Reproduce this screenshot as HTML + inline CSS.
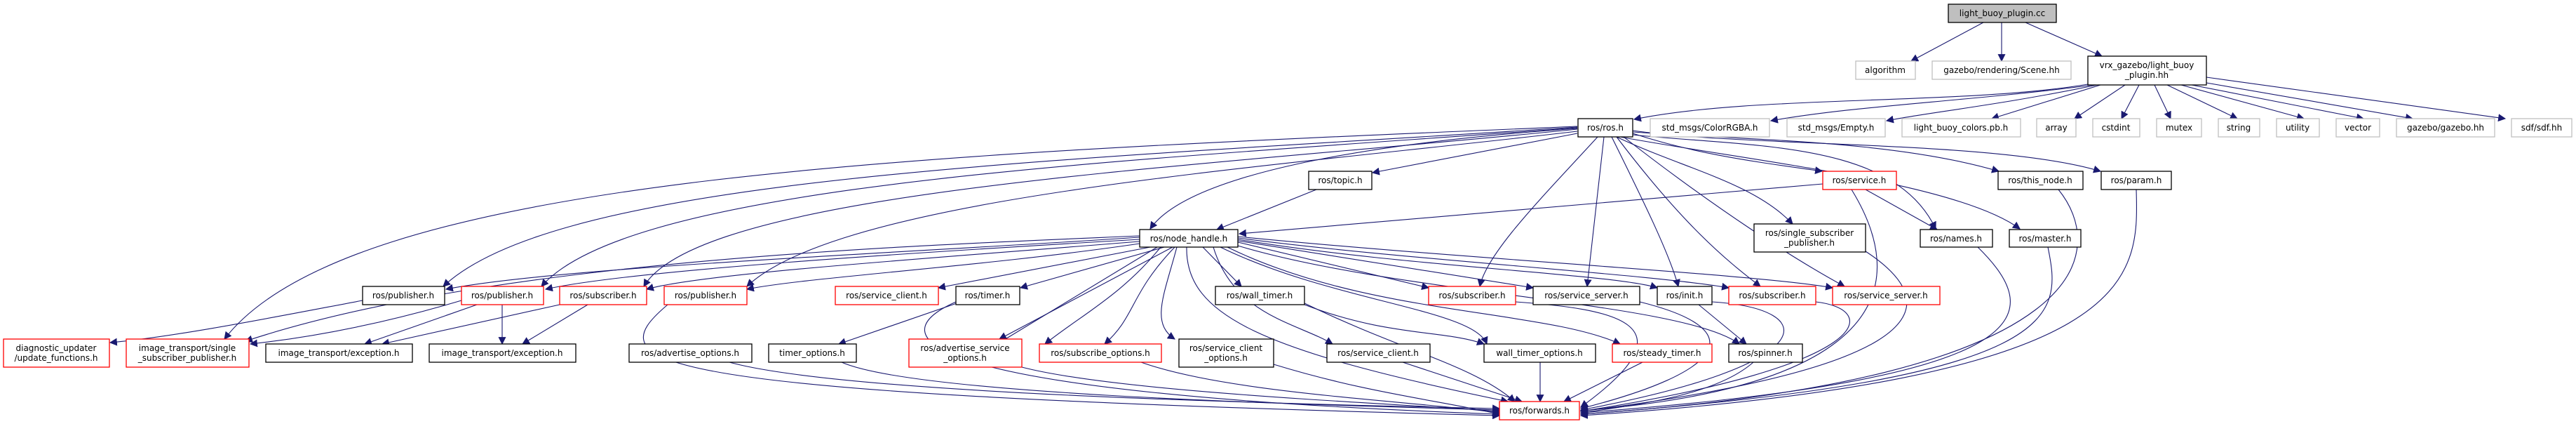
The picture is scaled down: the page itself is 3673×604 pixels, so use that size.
<!DOCTYPE html>
<html><head><meta charset="utf-8"><style>
html,body{margin:0;padding:0;background:#fff;width:3673px;height:604px;overflow:hidden}
svg{display:block}
text{font-family:"DejaVu Sans","Liberation Sans",sans-serif;font-size:12px;fill:#000;text-anchor:middle}
.b{fill:#fff;stroke:#000;stroke-width:1.3}
.g{fill:#fff;stroke:#bfbfbf;stroke-width:1.3}
.r{fill:#fff;stroke:#ff0000;stroke-width:1.3}
.e{fill:none;stroke:#191970;stroke-width:1.1}
</style></head><body>
<svg width="3673" height="604" viewBox="0 0 3673 604" xmlns="http://www.w3.org/2000/svg">
<defs><marker id="a" viewBox="0 0 10 10" refX="9" refY="5" markerWidth="11" markerHeight="11" markerUnits="userSpaceOnUse" orient="auto"><path d="M0,0 L10,5 L0,10 z" fill="#191970"/></marker></defs>
<g marker-end="url(#a)">
<!-- cc -->
<path class="e" d="M2828,32 L2725,87"/>
<path class="e" d="M2854,32 L2854,87"/>
<path class="e" d="M2888,32 L2997,80"/>
<!-- vrx -->
<path class="e" d="M2977,120 C2800,150 2500,135 2330,170"/>
<path class="e" d="M2985,121 C2800,145 2650,150 2525,172"/>
<path class="e" d="M2990,121 C2850,150 2750,160 2690,172"/>
<path class="e" d="M2995,121 L2840,169"/>
<path class="e" d="M3030,121 L2958,169"/>
<path class="e" d="M3050,121 L3025,169"/>
<path class="e" d="M3072,121 L3095,169"/>
<path class="e" d="M3090,121 L3190,169"/>
<path class="e" d="M3110,121 L3285,169"/>
<path class="e" d="M3125,121 L3370,169"/>
<path class="e" d="M3146,118 L3440,169"/>
<path class="e" d="M3146,110 L3572,169"/>
<!-- ros.h -->
<path class="e" d="M2249,183 C2000,200 1700,240 1640,326"/>
<path class="e" d="M2249,190 L1957,246"/>
<path class="e" d="M2328,190 C2420,220 2500,230 2598,244"/>
<path class="e" d="M2328,188 C2500,200 2700,200 2850,244"/>
<path class="e" d="M2328,186 C2500,210 2850,200 2995,244"/>
<path class="e" d="M2328,192 C2500,210 2700,200 2760,326"/>
<path class="e" d="M2310,195 C2500,230 2790,260 2880,326"/>
<path class="e" d="M2305,195 C2400,240 2500,260 2556,319"/>
<path class="e" d="M2249,181 C1500,230 800,250 632,408"/>
<path class="e" d="M2249,182 C1600,230 900,260 772,408"/>
<path class="e" d="M2249,184 C1700,240 1000,270 918,408"/>
<path class="e" d="M2249,187 C1800,240 1200,280 1065,408"/>
<path class="e" d="M2278,195 C2200,280 2120,360 2110,408"/>
<path class="e" d="M2287,195 L2263,408"/>
<path class="e" d="M2298,195 C2340,280 2380,360 2393,408"/>
<path class="e" d="M2305,195 C2400,320 2460,370 2510,408"/>
<path class="e" d="M2315,195 C2450,300 2560,370 2630,408"/>
<path class="e" d="M2249,180 C1300,220 500,250 320,483"/>
<!-- topic -->
<path class="e" d="M1877,270 L1735,327"/>
<!-- service.h -->
<path class="e" d="M2599,262 L1767,333"/>
<path class="e" d="M2660,270 L2762,327"/>
<path class="e" d="M2640,270 C2720,400 2700,550 2254,585"/>
<!-- right side to forwards -->
<path class="e" d="M2935,270 C3000,350 3010,540 2254,590"/>
<path class="e" d="M3046,270 C3050,400 3050,540 2254,592"/>
<path class="e" d="M2820,352 C2920,450 2910,540 2254,588"/>
<path class="e" d="M2920,352 C2940,450 2950,540 2254,590"/>
<path class="e" d="M2660,358 C2800,450 2700,530 2254,586"/>
<!-- node_handle -->
<path class="e" d="M1625,338 C1300,360 800,380 636,412"/>
<path class="e" d="M1625,341 C1300,360 900,385 778,412"/>
<path class="e" d="M1625,344 C1300,370 1000,390 922,412"/>
<path class="e" d="M1625,347 C1400,380 1150,395 1065,412"/>
<path class="e" d="M1640,352 L1338,410"/>
<path class="e" d="M1660,352 L1455,410"/>
<path class="e" d="M1715,352 L1770,408"/>
<path class="e" d="M1765,345 L2037,410"/>
<path class="e" d="M1765,343 L2186,410"/>
<path class="e" d="M1765,341 C2000,380 2300,390 2363,410"/>
<path class="e" d="M1765,339 C2000,370 2350,390 2465,410"/>
<path class="e" d="M1765,337 C2100,370 2500,390 2613,410"/>
<path class="e" d="M1650,352 L1422,490"/>
<path class="e" d="M1655,352 C1600,420 1540,450 1490,490"/>
<path class="e" d="M1672,352 L1425,483"/>
<path class="e" d="M1675,352 C1610,420 1620,450 1575,490"/>
<path class="e" d="M1678,352 C1660,420 1640,460 1675,483"/>
<path class="e" d="M1730,352 C1760,450 1850,460 1900,490"/>
<path class="e" d="M1740,352 C1900,430 2100,440 2120,490"/>
<path class="e" d="M1750,352 C1950,450 2200,440 2310,490"/>
<path class="e" d="M1765,350 C2000,420 2400,430 2480,490"/>
<path class="e" d="M1692,352 C1690,450 1800,500 2150,572"/>
<path class="e" d="M1625,336 C1300,350 700,370 350,486"/>
<!-- level 5 -->
<path class="e" d="M517,428 C400,450 250,480 157,488"/>
<path class="e" d="M658,428 C550,460 450,480 357,490"/>
<path class="e" d="M680,434 L520,490"/>
<path class="e" d="M716,434 L716,490"/>
<path class="e" d="M798,434 L545,490"/>
<path class="e" d="M838,434 L745,490"/>
<path class="e" d="M952,434 C850,520 900,560 2138,592"/>
<path class="e" d="M1370,430 L1196,490"/>
<path class="e" d="M1363,430 C1250,480 1300,560 2138,590"/>
<path class="e" d="M1860,434 C1980,480 2060,470 2116,490"/>
<path class="e" d="M1860,432 C2000,500 2100,520 2160,572"/>
<path class="e" d="M2422,434 L2490,490"/>
<path class="e" d="M2161,430 C2300,440 2420,460 2254,580"/>
<path class="e" d="M2338,430 C2500,470 2460,530 2254,582"/>
<path class="e" d="M2441,430 C2600,440 2600,520 2254,584"/>
<path class="e" d="M2589,430 C2680,440 2680,520 2254,586"/>
<!-- level 6 to forwards -->
<path class="e" d="M1040,516 C1200,560 1800,575 2138,582"/>
<path class="e" d="M1200,516 C1300,560 1800,575 2138,584"/>
<path class="e" d="M1457,523 C1600,560 2000,575 2138,586"/>
<path class="e" d="M1627,516 C1750,560 2000,570 2138,588"/>
<path class="e" d="M1816,519 C1950,560 2050,570 2138,590"/>
<path class="e" d="M2000,516 L2170,572"/>
<path class="e" d="M2196,516 L2196,572"/>
<path class="e" d="M2342,516 L2230,572"/>
<path class="e" d="M2500,516 C2450,560 2350,575 2254,588"/>
</g>
<!-- nodes -->
<rect x="2778" y="6" width="154" height="26" fill="#bfbfbf" stroke="#000" stroke-width="1.3"/><text x="2855" y="23">light_buoy_plugin.cc</text>
<rect class="g" x="2646" y="87" width="85" height="26"/><text x="2688" y="104">algorithm</text>
<rect class="g" x="2755" y="87" width="198" height="26"/><text x="2854" y="104">gazebo/rendering/Scene.hh</text>
<rect class="b" x="2977" y="80" width="169" height="41"/><text x="3061" y="97">vrx_gazebo/light_buoy</text><text x="3061" y="111">_plugin.hh</text>
<rect class="b" x="2250" y="169" width="78" height="26"/><text x="2289" y="186">ros/ros.h</text>
<rect class="g" x="2353" y="169" width="170" height="26"/><text x="2438" y="186">std_msgs/ColorRGBA.h</text>
<rect class="g" x="2548" y="169" width="140" height="26"/><text x="2618" y="186">std_msgs/Empty.h</text>
<rect class="g" x="2712" y="169" width="169" height="26"/><text x="2796" y="186">light_buoy_colors.pb.h</text>
<rect class="g" x="2904" y="169" width="56" height="26"/><text x="2932" y="186">array</text>
<rect class="g" x="2984" y="169" width="67" height="26"/><text x="3017" y="186">cstdint</text>
<rect class="g" x="3075" y="169" width="64" height="26"/><text x="3107" y="186">mutex</text>
<rect class="g" x="3163" y="169" width="59" height="26"/><text x="3192" y="186">string</text>
<rect class="g" x="3246" y="169" width="61" height="26"/><text x="3276" y="186">utility</text>
<rect class="g" x="3331" y="169" width="62" height="26"/><text x="3362" y="186">vector</text>
<rect class="g" x="3417" y="169" width="140" height="26"/><text x="3487" y="186">gazebo/gazebo.hh</text>
<rect class="g" x="3581" y="169" width="86" height="26"/><text x="3624" y="186">sdf/sdf.hh</text>
<rect class="b" x="1866" y="244" width="90" height="26"/><text x="1911" y="261">ros/topic.h</text>
<rect class="r" x="2599" y="244" width="105" height="26"/><text x="2651" y="261">ros/service.h</text>
<rect class="b" x="2849" y="244" width="121" height="26"/><text x="2909" y="261">ros/this_node.h</text>
<rect class="b" x="2996" y="244" width="100" height="26"/><text x="3046" y="261">ros/param.h</text>
<rect class="b" x="1625" y="327" width="140" height="25"/><text x="1695" y="344">ros/node_handle.h</text>
<rect class="b" x="2501" y="319" width="159" height="40"/><text x="2580" y="336">ros/single_subscriber</text><text x="2580" y="350">_publisher.h</text>
<rect class="b" x="2738" y="327" width="103" height="25"/><text x="2789" y="344">ros/names.h</text>
<rect class="b" x="2865" y="327" width="102" height="25"/><text x="2916" y="344">ros/master.h</text>
<rect class="b" x="517" y="408" width="117" height="26"/><text x="575" y="425">ros/publisher.h</text>
<rect class="r" x="658" y="408" width="117" height="26"/><text x="716" y="425">ros/publisher.h</text>
<rect class="r" x="798" y="408" width="124" height="26"/><text x="860" y="425">ros/subscriber.h</text>
<rect class="r" x="947" y="408" width="118" height="26"/><text x="1006" y="425">ros/publisher.h</text>
<rect class="r" x="1191" y="408" width="147" height="26"/><text x="1264" y="425">ros/service_client.h</text>
<rect class="b" x="1363" y="408" width="91" height="26"/><text x="1408" y="425">ros/timer.h</text>
<rect class="b" x="1733" y="408" width="127" height="26"/><text x="1796" y="425">ros/wall_timer.h</text>
<rect class="r" x="2037" y="408" width="124" height="26"/><text x="2099" y="425">ros/subscriber.h</text>
<rect class="b" x="2186" y="408" width="152" height="26"/><text x="2262" y="425">ros/service_server.h</text>
<rect class="b" x="2363" y="408" width="78" height="26"/><text x="2402" y="425">ros/init.h</text>
<rect class="r" x="2465" y="408" width="124" height="26"/><text x="2527" y="425">ros/subscriber.h</text>
<rect class="r" x="2613" y="408" width="153" height="26"/><text x="2689" y="425">ros/service_server.h</text>
<rect class="r" x="5" y="483" width="151" height="40"/><text x="80" y="500">diagnostic_updater</text><text x="80" y="514">/update_functions.h</text>
<rect class="r" x="180" y="483" width="175" height="40"/><text x="267" y="500">image_transport/single</text><text x="267" y="514">_subscriber_publisher.h</text>
<rect class="b" x="379" y="490" width="209" height="26"/><text x="483" y="507">image_transport/exception.h</text>
<rect class="b" x="612" y="490" width="209" height="26"/><text x="716" y="507">image_transport/exception.h</text>
<rect class="b" x="897" y="490" width="175" height="26"/><text x="984" y="507">ros/advertise_options.h</text>
<rect class="b" x="1096" y="490" width="125" height="26"/><text x="1158" y="507">timer_options.h</text>
<rect class="r" x="1296" y="483" width="161" height="40"/><text x="1376" y="500">ros/advertise_service</text><text x="1376" y="514">_options.h</text>
<rect class="r" x="1482" y="490" width="174" height="26"/><text x="1569" y="507">ros/subscribe_options.h</text>
<rect class="b" x="1681" y="483" width="135" height="40"/><text x="1748" y="500">ros/service_client</text><text x="1748" y="514">_options.h</text>
<rect class="b" x="1892" y="490" width="147" height="26"/><text x="1965" y="507">ros/service_client.h</text>
<rect class="b" x="2116" y="490" width="159" height="26"/><text x="2195" y="507">wall_timer_options.h</text>
<rect class="r" x="2299" y="490" width="142" height="26"/><text x="2370" y="507">ros/steady_timer.h</text>
<rect class="b" x="2465" y="490" width="105" height="26"/><text x="2517" y="507">ros/spinner.h</text>
<rect class="r" x="2138" y="572" width="114" height="26"/><text x="2195" y="589">ros/forwards.h</text>
</svg>
</body></html>
